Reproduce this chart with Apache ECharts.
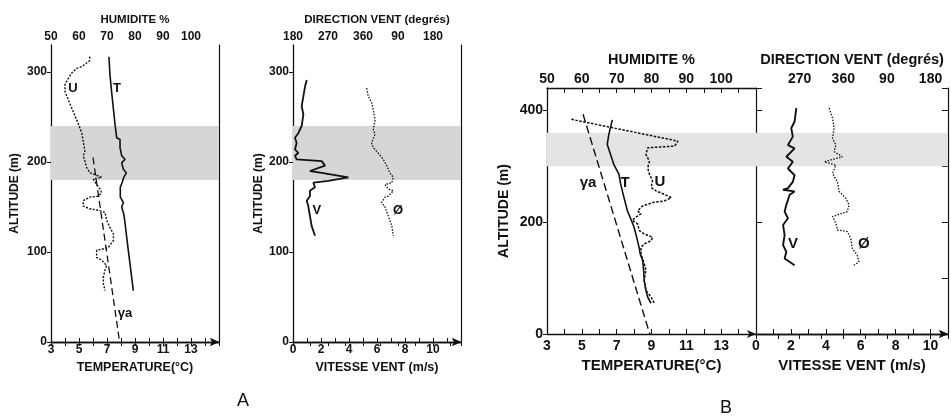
<!DOCTYPE html>
<html>
<head>
<meta charset="utf-8">
<title>Profils verticaux A / B</title>
<script src="https://cdn.jsdelivr.net/npm/echarts@6/dist/echarts.min.js"></script>
<style>
    html, body { margin: 0; padding: 0; background: #fff; }
    #chart { width: 951px; height: 419px; }
</style>
</head>
<body>
<div id="chart"></div>
<script>
// ---- profil A : [valeur, altitude m] ----
var tempA = [[7.14, 317], [7.21, 297], [7.33, 278], [7.45, 260], [7.57, 242], [7.69, 227], [7.93, 225], [7.93, 216],
    [8.05, 207], [8.29, 203], [8.05, 199], [8.17, 192], [8.38, 188], [8.2, 183], [8.1, 178], [7.95, 172], [7.95, 161],
    [8.17, 155], [8.05, 150], [8.2, 142], [8.29, 132], [8.41, 116], [8.52, 102], [8.64, 87], [8.76, 72], [8.88, 57]];
var humA = [[63.9, 317], [63.7, 312], [62.7, 310], [61, 306], [59.2, 304], [57.4, 299], [56.2, 293], [55, 286], [55, 278],
    [56.2, 269], [57.4, 260], [58.6, 251], [59.8, 242], [61, 232], [61.5, 223], [62.1, 212], [61.5, 207], [62.1, 201],
    [62.7, 194], [63.9, 188], [65.7, 186], [68.1, 183], [65.1, 181], [66.3, 175], [67.5, 170], [68.1, 166], [66.9, 162],
    [63.9, 161], [61.5, 157], [61.5, 151], [63.9, 148], [67.5, 146], [69.3, 144], [69.9, 135], [71.1, 127], [72.3, 120],
    [72.3, 113], [70.5, 105], [68.1, 103], [66.3, 102], [66.3, 94], [68.1, 91], [69.9, 85], [69.3, 80], [68.7, 72],
    [68.7, 65], [69.3, 57]];
var adiabA = [[6.0, 205], [7.9, 0]];
var windA = [[0.98, 291], [0.86, 284], [0.74, 273], [0.62, 262], [0.74, 253], [0.62, 240], [0.38, 232], [0.14, 227],
    [0.26, 221], [0.14, 214], [0.38, 210], [0.14, 207], [0.26, 203], [2.05, 201], [2.29, 196], [1.21, 190], [2.05, 188],
    [3.95, 183], [2.52, 179], [1.45, 177], [1.57, 172], [1.21, 168], [1.21, 162], [0.98, 157], [1.09, 151], [1.21, 140],
    [1.33, 129], [1.57, 118]];
var dirA = [[369.5, 282], [373.6, 273], [382, 266], [386.5, 258], [391, 247], [386.5, 236], [391, 231], [382, 221],
    [386.5, 216], [399, 210], [412, 203], [421, 196], [429, 188], [438, 183], [434, 177], [416.5, 175], [425, 170],
    [438, 168], [425, 162], [416.5, 161], [408, 155], [416.5, 150], [425, 140], [434, 129], [438, 118]];

// ---- profil B ----
var tempB = [[6.75, 383], [6.55, 357], [6.46, 339], [6.65, 321], [6.84, 303], [7.13, 286], [7.23, 268], [7.42, 244],
    [7.62, 220], [7.81, 206], [8.0, 191], [8.1, 179], [8.29, 155], [8.35, 143], [8.49, 132], [8.55, 114], [8.58, 96],
    [8.68, 78], [8.78, 66], [8.97, 55]];
var humB = [[57, 384], [87.6, 345], [86.6, 336], [78.9, 333], [78.4, 321], [79.4, 309], [78.9, 297], [79.4, 286],
    [80.3, 274], [79.9, 262], [81.3, 256], [84.7, 247], [85.7, 244], [83.7, 238], [80.3, 235], [77.4, 229], [76, 220],
    [77, 215], [75.5, 209], [74.5, 203], [76, 197], [76.5, 185], [77.9, 179], [80.3, 173], [79.9, 167], [77.9, 161],
    [77, 155], [77, 143], [77.9, 126], [78.4, 114], [77.9, 96], [78.4, 78], [79.9, 66], [80.8, 55]];
var adiabB = [[5.07, 393], [8.9, 0]];
var windB = [[2.31, 404], [2.21, 380], [2.02, 368], [2.11, 353], [1.83, 338], [2.21, 332], [1.74, 317], [2.11, 308],
    [1.83, 296], [2.21, 284], [2.11, 272], [1.83, 261], [1.55, 258], [2.21, 255], [1.93, 249], [1.74, 231], [1.64, 219],
    [1.83, 207], [1.55, 195], [1.64, 177], [1.55, 159], [1.74, 147], [1.64, 135], [2.21, 123]];
var dirB = [[331, 404], [337.8, 386], [341.2, 368], [337.8, 350], [344.7, 338], [341.2, 326], [358.2, 317], [320.8, 308],
    [344.7, 302], [337.8, 287], [348, 272], [351.4, 255], [365.1, 243], [371.9, 231], [368.4, 219], [337.8, 210],
    [344.7, 198], [348, 186], [368.4, 183], [375.3, 171], [378.6, 153], [388.8, 141], [392.3, 129], [382, 123]];

// couches grisées (m)
var bandA = [180, 240];
var bandB = [300, 360];

// étiquettes des courbes [x, altitude, texte]
var tagsA1 = [[4.57, 282, 'U'], [7.71, 282, 'T'], [8.29, 32, 'γa']];
var tagsA2 = [[1.71, 146, 'V'], [7.5, 146, 'Ø']];
var tagsB1 = [[5.36, 270, 'γa'], [7.48, 270, 'T'], [9.49, 272, 'U']];
var tagsB2 = [[2.12, 162, 'V'], [6.18, 162, 'Ø']];

var FONT = 'Liberation Sans';
var INK = '#111';

function dirLabel(v) {
    return v > 360 ? v - 360 : v;
}

// axe horizontal (bas ou haut)
function hAxis(grid, pos, min, max, interval, name, size, opt) {
    opt = opt || {};
    return {
        type: 'value',
        gridIndex: grid,
        position: pos,
        min: min,
        max: max,
        interval: interval,
        name: name,
        nameLocation: 'middle',
        nameGap: opt.nameGap,
        nameTextStyle: { fontFamily: FONT, fontWeight: 'bold', fontSize: opt.nameSize || size, color: INK },
        axisLine: { show: true, lineStyle: { color: INK, width: 1.3 }, symbol: opt.arrow === false ? 'none' : ['none', 'arrow'], symbolSize: [6, 9] },
        axisTick: { show: true, inside: true, length: opt.tick || 4, lineStyle: { color: INK } },
        minorTick: { show: true, splitNumber: 2, length: opt.tick || 4, lineStyle: { color: INK } },
        axisLabel: {
            fontFamily: FONT, fontWeight: 'bold', fontSize: size, color: INK, margin: opt.margin,
            showMaxLabel: false, showMinLabel: opt.hideMin ? false : true,
            formatter: opt.formatter
        },
        splitLine: { show: false }
    };
}

function vAxis(grid, max, interval, name, size, nameGap, margin) {
    return {
        type: 'value',
        gridIndex: grid,
        position: 'left',
        min: 0,
        max: max,
        interval: interval,
        name: name,
        nameLocation: 'middle',
        nameRotate: 90,
        nameGap: nameGap,
        nameTextStyle: { fontFamily: FONT, fontWeight: 'bold', fontSize: size, color: INK },
        axisLine: { show: true, lineStyle: { color: INK, width: 1.3 } },
        axisTick: { show: true, length: 4, lineStyle: { color: INK } },
        axisLabel: { fontFamily: FONT, fontWeight: 'bold', fontSize: size, color: INK, margin: margin, showMaxLabel: false },
        splitLine: { show: false }
    };
}

// bordure droite / intermédiaire sans étiquettes
function border(grid, pos, max, interval, ticks) {
    return {
        type: 'value',
        gridIndex: grid,
        position: pos,
        min: 0,
        max: max,
        interval: interval,
        axisLine: { show: true, lineStyle: { color: INK, width: 1.2 } },
        axisTick: { show: ticks, inside: true, length: 6, lineStyle: { color: INK } },
        axisLabel: { show: false },
        splitLine: { show: false }
    };
}

function curve(data, xi, yi, width, dash, band, shade) {
    var s = {
        type: 'line',
        xAxisIndex: xi,
        yAxisIndex: yi,
        data: data,
        showSymbol: false,
        silent: true,
        z: 3,
        lineStyle: { color: INK, width: width, type: dash || 'solid' }
    };
    if (band) {
        s.markArea = {
            silent: true,
            itemStyle: { color: shade },
            data: [[{ yAxis: band[0] }, { yAxis: band[1] }]]
        };
    }
    return s;
}

function tags(data, xi, yi, size) {
    return {
        type: 'scatter',
        xAxisIndex: xi,
        yAxisIndex: yi,
        data: data,
        symbolSize: 0,
        silent: true,
        z: 4,
        itemStyle: { opacity: 1 },
        label: {
            show: true,
            position: 'inside',
            fontFamily: FONT, fontWeight: 'bold', fontSize: size, color: INK,
            formatter: function (p) { return p.value[2]; }
        }
    };
}

window.onload = function () {
    var myChart = echarts.init(document.getElementById('chart'));

    var option = {
        backgroundColor: '#ffffff',
        animation: false,
        grid: [
            { left: 51, top: 45, width: 168, height: 297, outerBoundsMode: 'none' },
            { left: 293, top: 45, width: 168, height: 297, outerBoundsMode: 'none' },
            { left: 547, top: 88, width: 209, height: 246, outerBoundsMode: 'none' },
            { left: 756, top: 88, width: 192, height: 246, outerBoundsMode: 'none' }
        ],
        xAxis: [
            hAxis(0, 'bottom', 3, 15, 2, 'TEMPERATURE(°C)', 12, { nameGap: 17, margin: 2, nameSize: 12.5 }),
            hAxis(0, 'top', 50, 110, 10, 'HUMIDITE %', 12, { nameGap: 18, margin: 2, nameSize: 11.5 }),
            hAxis(1, 'bottom', 0, 12, 2, 'VITESSE VENT (m/s)', 12, { nameGap: 17, margin: 2, nameSize: 12.5 }),
            hAxis(1, 'top', 180, 612, 90, 'DIRECTION VENT (degrés)', 12, { nameGap: 18, margin: 2, nameSize: 11.5, formatter: dirLabel }),
            hAxis(2, 'bottom', 3, 15, 2, 'TEMPERATURE(°C)', 14, { nameGap: 19, margin: 5, tick: 5, nameSize: 15 }),
            hAxis(2, 'top', 50, 110, 10, 'HUMIDITE %', 14, { nameGap: 21, margin: 2, tick: 5, arrow: false, nameSize: 14.5 }),
            hAxis(3, 'bottom', 0, 11, 2, 'VITESSE VENT (m/s)', 14, { nameGap: 19, margin: 5, tick: 5, nameSize: 15 }),
            hAxis(3, 'top', 180, 576, 90, 'DIRECTION VENT (degrés)', 14, { nameGap: 21, margin: 2, tick: 5, nameSize: 14.5, hideMin: true, formatter: dirLabel })
        ],
        yAxis: [
            vAxis(0, 330, 100, 'ALTITUDE (m)', 12, 30, 4),
            border(0, 'right', 330, 100, false),
            vAxis(1, 330, 100, 'ALTITUDE (m)', 12, 28, 4),
            border(1, 'right', 330, 100, false),
            vAxis(2, 440, 200, 'ALTITUDE (m)', 14, 36, 4),
            border(3, 'left', 440, 200, true),
            border(3, 'right', 440, 100, true)
        ],
        graphic: [
            { type: 'text', left: 237, top: 392, style: { text: 'A', fontFamily: FONT, fontSize: 18, fill: INK } },
            { type: 'text', left: 720, top: 399, style: { text: 'B', fontFamily: FONT, fontSize: 18, fill: INK } }
        ],
        series: [
            // A - température / humidité
            curve(tempA, 0, 0, 1.6, 'solid', bandA, '#d6d6d6'),
            curve(humA, 1, 0, 1.4, [2, 1.5]),
            curve(adiabA, 0, 0, 1.3, [7, 4]),
            tags(tagsA1, 0, 0, 13),
            // A - vent
            curve(windA, 2, 2, 1.8, 'solid', bandA, '#d6d6d6'),
            curve(dirA, 3, 2, 1.3, [1.5, 1.5]),
            tags(tagsA2, 2, 2, 13),
            // B - température / humidité
            curve(tempB, 4, 4, 1.6, 'solid', bandB, '#e4e4e4'),
            curve(humB, 5, 4, 1.5, [2.5, 1.5]),
            curve(adiabB, 4, 4, 1.4, [8, 4]),
            tags(tagsB1, 4, 4, 15),
            // B - vent
            curve(windB, 6, 5, 1.9, 'solid', bandB, '#e4e4e4'),
            curve(dirB, 7, 5, 1.3, [1.5, 1.5]),
            tags(tagsB2, 6, 5, 15)
        ]
    };

    myChart.setOption(option);
};
</script>
</body>
</html>
